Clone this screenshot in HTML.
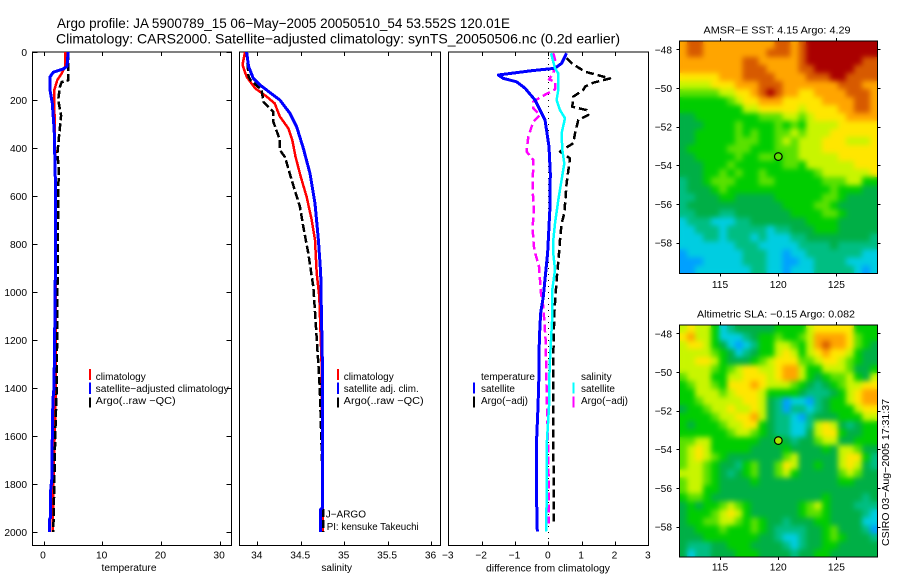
<!DOCTYPE html>
<html lang="en">
<head>
<meta charset="utf-8">
<title>Argo profile 5900789_15</title>
<style>
html,body{margin:0;padding:0;background:#fff;}
svg{display:block;font-family:"Liberation Sans",sans-serif;font-size:10.2px;fill:#000;}
</style>
</head>
<body>
<svg id="figure" width="900" height="580" viewBox="0 0 900 580" xmlns="http://www.w3.org/2000/svg">
<defs>
<filter id="map-smooth" x="-5%" y="-5%" width="110%" height="110%" color-interpolation-filters="sRGB"><feGaussianBlur stdDeviation="2.6"/></filter>
<clipPath id="clip-sst"><rect x="679.3" y="41" width="198.4" height="232.3"/></clipPath>
<clipPath id="clip-sla"><rect x="679.3" y="325" width="198.4" height="232"/></clipPath>
</defs>
<rect x="0" y="0" width="900" height="580" fill="#fff"/>
<text x="57" y="28" font-size="14" textLength="453" lengthAdjust="spacingAndGlyphs">Argo profile: JA 5900789_15 06−May−2005 20050510_54 53.552S 120.01E</text>
<text x="56" y="43.5" font-size="14" textLength="564" lengthAdjust="spacingAndGlyphs">Climatology: CARS2000. Satellite−adjusted climatology: synTS_20050506.nc (0.2d earlier)</text>
<text x="129" y="571" text-anchor="middle" font-size="10" textLength="55" lengthAdjust="spacingAndGlyphs">temperature</text>
<text x="336.7" y="571" text-anchor="middle" font-size="10">salinity</text>
<text x="548" y="571.5" text-anchor="middle" font-size="10" textLength="124" lengthAdjust="spacingAndGlyphs">difference from climatology</text>
<text x="777" y="33.5" text-anchor="middle" font-size="10.4" textLength="147" lengthAdjust="spacingAndGlyphs">AMSR−E SST: 4.15 Argo: 4.29</text>
<text x="776" y="317.5" text-anchor="middle" font-size="10.4" textLength="158" lengthAdjust="spacingAndGlyphs">Altimetric SLA: −0.15 Argo: 0.082</text>
<text transform="translate(889,546) rotate(-90)" font-size="10.4" textLength="147" lengthAdjust="spacingAndGlyphs">CSIRO 03−Aug−2005 17:31:37</text>
<text x="95.7" y="380" font-size="10">climatology</text>
<text x="95.7" y="392" font-size="10" textLength="133" lengthAdjust="spacingAndGlyphs">satellite−adjusted climatology</text>
<text x="95.7" y="404" font-size="10" textLength="80" lengthAdjust="spacingAndGlyphs">Argo(..raw −QC)</text>
<text x="343.7" y="380" font-size="10">climatology</text>
<text x="343.7" y="392" font-size="10" textLength="75" lengthAdjust="spacingAndGlyphs">satellite adj. clim.</text>
<text x="343.7" y="404" font-size="10" textLength="80" lengthAdjust="spacingAndGlyphs">Argo(..raw −QC)</text>
<text x="325.7" y="517.7" font-size="10">J−ARGO</text>
<text x="326.7" y="530" font-size="10" textLength="92" lengthAdjust="spacingAndGlyphs">PI: kensuke Takeuchi</text>
<text x="481" y="380" font-size="10">temperature</text>
<text x="481" y="392" font-size="10">satellite</text>
<text x="481" y="404" font-size="10">Argo(−adj)</text>
<text x="581" y="380" font-size="10">salinity</text>
<text x="581" y="392" font-size="10">satellite</text>
<text x="581" y="404" font-size="10">Argo(−adj)</text>
<g id="marks"></g>
</svg>
<script>
/* ---------- tick labels ---------- */
const depthTicks = [0, 200, 400, 600, 800, 1000, 1200, 1400, 1600, 1800, 2000];
const tempTicks = [0, 10, 20, 30];
const salTicks = [34, 34.5, 35, 35.5, 36];
const diffTicks = [-3, -2, -1, 0, 1, 2, 3];
const lonTicks = [115, 120, 125];
const latTicks = [-48, -50, -52, -54, -56, -58];

/* ---------- temperature profiles ---------- */
const tempClimDepth = [0, 61, 89, 117, 158, 228, 616, 1400, 1800, 2000];
const tempClimValue = [3.7, 3.66, 3.1, 2.35, 1.84, 1.85, 2.07, 2.1, 1.68, 1.57];
const tempSatDepth = [0, 60, 70, 84, 104, 158, 214, 325, 600, 1000, 1400, 1450, 1600, 1800, 1805, 1940, 1945, 2000];
const tempSatValue = [4.2, 4.0, 3.4, 1.67, 1.1, 1.1, 1.5, 1.83, 2.07, 2.0, 1.79, 1.6, 1.5, 1.4, 1.25, 1.2, 1.05, 1.05];
const tempArgoDepth = [0, 118, 125, 145, 200, 265, 340, 425, 480, 600, 1400, 1600, 1800, 2000];
const tempArgoValue = [4.2, 4.2, 3.1, 2.8, 2.5, 3.0, 2.7, 2.35, 2.6, 2.5, 2.25, 2.0, 1.84, 1.67];

/* ---------- salinity profiles ---------- */
const salClimDepth = [0, 54, 103, 151, 186, 214, 269, 318, 367, 436, 519, 603, 700, 783, 922, 1019, 1300, 2000];
const salClimValue = [33.858, 33.83, 33.877, 33.973, 34.108, 34.2, 34.26, 34.357, 34.403, 34.44, 34.5, 34.568, 34.626, 34.664, 34.684, 34.714, 34.74, 34.755];
const salSatDepth = [0, 61, 110, 137, 169, 200, 256, 311, 401, 506, 631, 783, 922, 1019, 1300, 1900, 1905, 2000];
const salSatValue = [33.877, 33.9, 33.954, 34.03, 34.146, 34.26, 34.376, 34.453, 34.53, 34.607, 34.664, 34.703, 34.73, 34.735, 34.749, 34.749, 34.73, 34.73];
const salArgoDepth = [0, 103, 117, 158, 207, 249, 290, 367, 408, 439, 533, 644, 728, 839, 978, 1019, 1283, 1400, 1800, 2000];
const salArgoValue = [33.877, 33.9, 33.92, 34.05, 34.07, 34.184, 34.184, 34.26, 34.26, 34.32, 34.395, 34.49, 34.53, 34.587, 34.645, 34.653, 34.7, 34.72, 34.753, 34.76];

/* ---------- difference profiles ---------- */
const diffTempSatDepth = [5, 47, 68, 78, 96, 110, 124, 151, 200, 283, 394, 506, 644, 783, 839, 922, 1019, 1089, 1200, 1339, 1478, 1617, 1866, 1998];
const diffTempSatValue = [0.55, 0.4, 0.2, -0.5, -1.5, -1.35, -0.95, -0.7, -0.4, -0.1, 0.02, 0.06, 0.05, 0, -0.02, -0.08, -0.15, -0.23, -0.27, -0.28, -0.31, -0.35, -0.35, -0.33];
const diffSalSatDepth = [5, 68, 89, 158, 200, 242, 276, 339, 408, 464, 533, 617, 714, 783, 839, 908, 991, 1102, 1200, 1311, 1478, 1617, 1880, 1998];
const diffSalSatValue = [0.08, 0.2, 0.3, 0.3, 0.25, 0.35, 0.5, 0.4, 0.42, 0.48, 0.4, 0.3, 0.2, 0.15, 0.15, 0.2, 0.12, 0.12, 0.08, 0.04, 0.02, -0.04, -0.05, -0.07];
const diffTempArgoDepth = [26, 47, 82, 110, 128, 144, 158, 186, 228, 242, 262, 283, 339, 380, 415, 443, 547, 603, 672, 714, 783, 825, 950, 1089, 1270, 1617, 1964];
const diffTempArgoValue = [0.55, 0.7, 1.1, 1.85, 1.35, 1.1, 1.05, 0.75, 0.72, 1.15, 1.2, 0.9, 0.8, 0.75, 0.35, 0.65, 0.55, 0.52, 0.48, 0.4, 0.35, 0.33, 0.25, 0.18, 0.15, 0.15, 0.17];
const diffSalArgoDepth = [5, 40, 89, 114, 124, 156, 186, 207, 235, 262, 290, 353, 415, 450, 575, 658, 728, 783, 825, 894, 1005, 1061, 1200, 1408, 1672, 1964];
const diffSalArgoValue = [0.15, 0.22, 0.15, 0.02, 0.2, 0.2, -0.2, -0.45, -0.45, -0.25, -0.45, -0.6, -0.65, -0.45, -0.47, -0.43, -0.47, -0.45, -0.42, -0.28, -0.22, -0.15, -0.08, -0.05, 0, 0.02];

/* ---------- map fields (colour level, north to south, west to east) ---------- */
const sstGrid = [
[8,9,9,8,8,8,8,8,8,8,8,8,9,9,8,9,10,10,10,10,10,10,10,10,10],
[8,9,9,8,8,8,8,8,8,8,8,9,9,9,8,9,10,10,10,10,10,10,10,10,10],
[8,8,8,8,8,8,8,8,9,9,8,8,8,8,8,9,10,10,10,10,10,10,10,9,9],
[8,8,8,8,8,8,8,8,9,9,9,8,8,8,8,9,9,10,10,10,10,10,9,9,9],
[7,7,7,7,7,8,8,8,9,9,9,9,8,8,8,8,9,9,9,10,10,9,9,9,9],
[6,6,6,6,7,7,7,8,8,8,9,9,9,8,8,8,8,8,8,8,9,9,9,8,8],
[5,5,5,5,5,6,6,7,7,8,9,10,9,8,8,7,7,8,8,8,8,9,9,9,8],
[4,4,4,4,4,4,5,6,7,7,8,8,8,7,7,7,7,7,8,8,8,8,9,9,8],
[4,4,4,4,4,4,4,4,6,6,7,7,7,7,7,6,7,7,7,7,8,8,9,9,8],
[3,3,4,4,4,4,4,4,4,4,5,5,5,6,6,5,6,7,7,7,7,8,8,8,8],
[3,3,3,4,4,4,4,5,4,4,4,4,5,4,5,4,6,6,6,6,7,7,7,7,7],
[3,3,4,4,4,4,4,5,4,5,4,4,5,5,6,5,6,6,6,7,7,7,7,7,7],
[3,3,4,4,4,4,4,5,5,5,4,4,5,6,5,6,6,6,7,7,7,6,6,6,7],
[3,4,4,4,4,4,5,5,5,4,4,4,5,5,5,6,6,6,7,7,7,7,7,7,7],
[3,3,4,4,4,4,4,5,4,4,5,5,4,5,5,6,6,6,6,6,7,7,7,7,7],
[3,3,3,4,4,4,5,4,4,4,4,4,4,5,5,4,6,6,6,6,6,6,7,7,7],
[3,3,3,4,4,5,4,5,4,4,5,4,4,4,4,4,4,5,6,6,6,6,6,6,7],
[2,3,3,4,5,5,5,4,4,4,5,5,4,4,4,4,4,4,5,5,5,6,6,4,4],
[2,3,3,3,4,5,4,4,4,4,4,4,4,4,4,4,4,4,4,5,4,4,4,3,3],
[2,2,3,3,3,4,4,3,3,3,3,3,4,4,4,4,4,4,5,5,4,3,3,3,3],
[2,3,3,3,3,3,3,3,3,3,3,3,3,4,4,4,4,5,5,4,3,3,3,3,3],
[2,2,3,3,3,2,2,3,3,3,3,3,3,3,4,4,4,4,5,5,4,3,3,3,3],
[1,2,2,2,1,1,1,2,2,3,3,3,3,3,3,3,4,4,4,4,3,3,3,3,3],
[1,1,2,2,2,1,2,2,2,2,2,1,2,2,3,3,3,4,4,4,3,3,3,3,3],
[1,1,1,2,2,1,2,2,2,1,2,1,1,1,2,2,3,3,3,3,3,3,3,3,2],
[1,1,1,1,1,1,1,2,2,2,1,1,1,1,1,2,2,2,2,3,2,2,2,2,2],
[0,1,1,1,1,1,1,1,2,2,2,1,1,0,1,1,2,2,2,2,2,2,2,1,1],
[0,0,0,1,1,1,1,1,2,2,2,1,1,0,0,1,1,2,2,2,2,1,1,1,1],
[0,0,1,1,1,1,1,1,1,2,2,1,1,0,1,1,1,2,2,2,2,2,1,0,1]
];
const slaGrid = [
[6,7,6,6,4,1,2,3,3,3,3,3,4,4,4,4,6,7,7,7,7,7,4,4,4],
[7,8,6,6,4,1,1,1,2,3,4,4,5,4,4,5,6,8,8,8,8,7,5,4,4],
[6,7,7,6,4,3,1,0,1,2,4,4,6,6,5,4,6,8,9,8,8,7,5,4,3],
[6,6,6,6,5,4,3,1,2,3,4,4,6,7,6,4,6,7,8,7,7,6,4,3,3],
[6,6,7,7,6,4,3,3,3,4,5,6,7,7,7,5,5,6,7,7,6,5,4,3,3],
[6,6,6,6,5,4,5,6,7,7,6,6,7,8,8,6,4,4,6,6,6,5,3,3,4],
[5,6,6,6,4,4,6,6,7,7,7,6,7,8,8,6,4,3,4,5,5,6,4,3,6],
[4,5,6,6,5,4,7,7,7,8,7,6,6,6,5,4,3,2,3,4,5,6,6,7,7],
[4,4,6,6,6,5,6,7,7,7,6,4,4,4,4,3,2,2,2,3,4,6,7,8,8],
[4,4,5,6,6,6,6,6,7,7,6,3,2,0,1,1,0,2,3,4,4,6,7,8,8],
[3,4,4,5,6,6,7,6,6,7,6,3,2,0,2,2,1,2,3,4,4,4,6,7,7],
[4,4,4,4,5,6,6,7,7,8,6,3,2,2,1,0,2,3,3,3,4,4,4,6,6],
[4,3,4,4,4,5,6,6,7,7,4,3,2,2,1,1,2,6,7,6,3,2,3,4,4],
[4,4,4,4,4,4,5,6,6,5,4,3,2,2,1,1,3,6,7,7,4,3,3,4,4],
[5,5,6,6,4,4,4,4,4,4,3,3,4,3,2,3,3,5,6,6,3,3,4,4,4],
[5,6,7,6,4,4,4,4,4,3,3,3,3,4,3,3,3,3,4,3,6,6,5,3,3],
[5,6,7,6,5,4,3,3,3,3,3,3,3,5,6,3,3,3,3,3,6,7,7,4,2],
[5,6,6,5,4,3,3,2,4,5,3,3,5,7,6,3,3,4,3,3,6,7,6,3,2],
[6,6,6,5,4,3,2,3,4,5,3,3,5,6,4,3,3,3,3,3,5,6,5,3,3],
[5,6,6,5,4,3,3,3,3,4,3,3,3,3,3,3,3,3,3,3,4,4,3,3,3],
[5,6,6,4,4,3,3,3,3,3,3,3,3,3,3,3,3,3,3,3,3,3,3,3,3],
[4,5,5,4,3,3,3,3,3,3,3,3,3,3,3,3,3,3,4,3,3,3,3,2,3],
[3,4,3,4,4,5,6,5,4,3,3,3,3,3,3,4,5,6,4,3,3,3,2,2,2],
[3,4,4,4,5,6,7,6,4,3,3,3,3,3,3,4,5,5,4,3,3,3,3,2,1],
[3,4,4,5,5,6,6,5,4,5,4,3,3,2,3,3,3,4,4,3,3,3,3,1,1],
[3,3,4,4,4,5,4,4,4,5,4,3,2,2,2,2,3,3,4,5,3,3,3,2,0],
[3,3,3,4,4,4,4,4,4,4,3,3,2,1,1,2,3,3,4,5,4,3,3,3,2],
[3,2,2,2,3,3,4,4,4,3,3,3,3,2,1,2,3,3,4,4,3,3,3,3,3],
[3,1,2,2,3,3,3,4,4,4,3,3,3,3,2,3,3,4,4,3,3,3,3,3,3]
];
const floatLon = [120.01];
const floatLat = [-53.552];

/* ---------- drawing ---------- */
const NS = 'http://www.w3.org/2000/svg';
const root = document.getElementById('marks');
const levelColors = ['#00a0ff','#00cde1','#00be82','#00af46','#00cd00','#5ae100','#c8f500','#ffe600','#ffa500','#d75a00','#aa0000'];

function shape(tag, attrs, parent) {
  const el = document.createElementNS(NS, tag);
  for (const key in attrs) el.setAttribute(key, attrs[key]);
  (parent || root).appendChild(el);
  return el;
}
function linear(d0, d1, p0, p1) {
  return function (v) { return p0 + (v - d0) * (p1 - p0) / (d1 - d0); };
}
function formatNum(v) {
  return String(v).replace('-', '\u2212');
}

const yDepth = linear(0, 2000, 52, 532);
const xTemp = linear(0, 30, 43.5, 219.6);
const xSal = linear(34, 36, 257.3, 431);
const xDiff = linear(-3, 3, 448.3, 648.3);
const PROFILE_TOP = 52, PROFILE_BOTTOM = 545.3;

function drawSeries(name, xScale, depth, values, color, width, dash) {
  const pts = depth.map(function (d, i) { return xScale(values[i]).toFixed(1) + ',' + yDepth(d).toFixed(1); }).join(' ');
  const line = shape('polyline', { points: pts, fill: 'none', stroke: color, 'stroke-width': width, 'shape-rendering': 'crispEdges', 'stroke-linejoin': 'round' });
  
  
  if (dash) line.setAttribute('stroke-dasharray', dash);
}
function drawFrame(name, left, right, top, bottom) {
  const frame = shape('rect', { x: left, y: top, width: right - left, height: bottom - top, fill: 'none', stroke: '#000', 'stroke-width': 1, 'shape-rendering': 'crispEdges' });
  
  
}
function drawTick(x1, y1, x2, y2) {
  const tick = shape('line', { x1: x1, y1: y1, x2: x2, y2: y2, stroke: '#000', 'stroke-width': 1, 'shape-rendering': 'crispEdges' });
  
  
}
function drawLabel(str, x, y, anchor) {
  const label = shape('text', { x: x, y: y, 'text-anchor': anchor });
  label.textContent = str;
  
  
}
function drawProfileAxes(name, left, right, xScale, ticks, withDepth) {
  drawFrame(name + '-frame', left, right, PROFILE_TOP, PROFILE_BOTTOM);
  ticks.forEach(function (t) {
    const x = Math.round(xScale(t)) + 0.5;
    drawTick(x, PROFILE_TOP, x, PROFILE_TOP + 4);
    drawTick(x, PROFILE_BOTTOM, x, PROFILE_BOTTOM - 4);
    drawLabel(formatNum(t), xScale(t) - 0.5, 558.3, 'middle');
  });
  if (withDepth) {
    depthTicks.forEach(function (d) {
      const y = Math.round(yDepth(d)) + 0.5;
      drawTick(left, y, left + 5, y);
      drawTick(right, y, right - 5, y);
      drawLabel(String(d), 27, yDepth(d) + 4, 'end');
    });
  }
}
function drawMap(name, grid, frameTop, frameBottom, lat48, labelY, markerFill, clipId) {
  const left = 679.3, right = 877.7;
  const xLon = linear(115, 125, 720, 836.4);
  const yLat = linear(-48, -58, lat48, lat48 + 193.2);
  const lonStart = 111.49, lonEnd = 128.55, latStart = -47.57, latEnd = -59.6;
  const rows = grid.length, cols = grid[0].length;
  const clipGroup = shape('g', { 'clip-path': 'url(#' + clipId + ')' });
  
  
  const cells = shape('g', { id: name + '-cells' }, clipGroup);
  
  
  grid.forEach(function (row, r) {
    row.forEach(function (level, c) {
      const x0 = xLon(lonStart + (lonEnd - lonStart) * c / cols);
      const x1 = xLon(lonStart + (lonEnd - lonStart) * (c + 1) / cols);
      const y0 = yLat(latStart + (latEnd - latStart) * r / rows);
      const y1 = yLat(latStart + (latEnd - latStart) * (r + 1) / rows);
      const cell = shape('rect', { x: x0.toFixed(2), y: y0.toFixed(2), width: (x1 - x0 + 0.4).toFixed(2), height: (y1 - y0 + 0.4).toFixed(2), fill: levelColors[level], 'shape-rendering': 'crispEdges' }, cells);
      
      
    });
  });
  const smooth = shape('use', { href: '#' + name + '-cells', filter: 'url(#map-smooth)' }, clipGroup);
  
  
  drawFrame(name + '-frame', left, right, frameTop, frameBottom);
  lonTicks.forEach(function (lon) {
    const x = Math.round(xLon(lon)) + 0.5;
    drawTick(x, frameTop, x, frameTop - 3);
    drawTick(x, frameBottom, x, frameBottom + 3);
    drawLabel(String(lon), xLon(lon), labelY, 'middle');
  });
  latTicks.forEach(function (lat) {
    const y = Math.round(yLat(lat)) + 0.5;
    drawTick(left, y, left - 3, y);
    drawTick(right, y, right + 3, y);
    drawLabel(formatNum(lat), 672, yLat(lat) + 4, 'end');
  });
  const marker = shape('circle', { cx: xLon(floatLon[0]), cy: yLat(floatLat[0]), r: 3.8, fill: markerFill, stroke: '#000', 'stroke-width': 1.2 });
  
  
}
function drawLegendBar(name, x, y0, y1, color) {
  const bar = shape('line', { x1: x, y1: y0, x2: x, y2: y1, stroke: color, 'stroke-width': 2, 'shape-rendering': 'crispEdges' });
  
  
}

/* temperature panel */
drawProfileAxes('temperature-panel', 32.5, 231.5, xTemp, tempTicks, true);
drawSeries('temp-climatology-line', xTemp, tempClimDepth, tempClimValue, '#ff0000', 2.5);
drawSeries('temp-argo-line', xTemp, tempArgoDepth, tempArgoValue, '#000', 2.5, '8 3');
drawSeries('temp-satellite-line', xTemp, tempSatDepth, tempSatValue, '#0000ff', 3);

/* salinity panel */
drawProfileAxes('salinity-panel', 239.5, 440.5, xSal, salTicks, false);
drawSeries('sal-climatology-line', xSal, salClimDepth, salClimValue, '#ff0000', 2.5);
drawSeries('sal-argo-line', xSal, salArgoDepth, salArgoValue, '#000', 2.5, '8 3');
drawSeries('sal-satellite-line', xSal, salSatDepth, salSatValue, '#0000ff', 3);

/* difference panel */
drawProfileAxes('difference-panel', 448.5, 648.5, xDiff, diffTicks, false);
const zeroLine = shape('line', { x1: xDiff(0), y1: PROFILE_TOP, x2: xDiff(0), y2: PROFILE_BOTTOM, stroke: '#000', 'stroke-width': 1, 'stroke-dasharray': '1 5', 'shape-rendering': 'crispEdges' });


drawSeries('diff-temp-argo-line', xDiff, diffTempArgoDepth, diffTempArgoValue, '#000', 2.5, '8 4');
drawSeries('diff-sal-argo-line', xDiff, diffSalArgoDepth, diffSalArgoValue, '#ff00ff', 2.5, '8 4');
drawSeries('diff-temp-satellite-line', xDiff, diffTempSatDepth, diffTempSatValue, '#0000ff', 3);
drawSeries('diff-sal-satellite-line', xDiff, diffSalSatDepth, diffSalSatValue, '#00ffff', 2.5);

/* legends */
drawLegendBar('temp-legend-climatology-swatch', 90, 369, 380, '#ff0000');
drawLegendBar('temp-legend-satellite-swatch', 90, 382.7, 394, '#0000ff');
drawLegendBar('temp-legend-argo-swatch', 90, 397.7, 407.5, '#000');
drawLegendBar('sal-legend-climatology-swatch', 338, 369, 380, '#ff0000');
drawLegendBar('sal-legend-satellite-swatch', 338, 382.7, 394, '#0000ff');
drawLegendBar('sal-legend-argo-swatch', 338, 397.7, 407.5, '#000');
drawLegendBar('diff-legend-temp-satellite-swatch', 474, 382.7, 393.3, '#0000ff');
drawLegendBar('diff-legend-temp-argo-swatch', 474, 396.7, 407.7, '#000');
drawLegendBar('diff-legend-sal-satellite-swatch', 573.7, 382.7, 393.3, '#00ffff');
drawLegendBar('diff-legend-sal-argo-swatch', 573.7, 396.7, 407.7, '#ff00ff');

/* maps */
drawMap('sst-map', sstGrid, 41, 273.3, 49.3, 288, '#5ae100', 'clip-sst');
drawMap('sla-map', slaGrid, 325, 557, 333.3, 570.7, '#a8e600', 'clip-sla');
</script>
</body>
</html>
